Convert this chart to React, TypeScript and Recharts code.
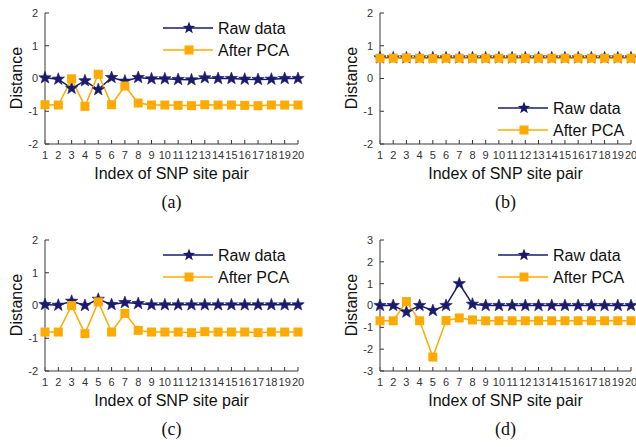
import React from "react";
import { LineChart, Line, XAxis, YAxis, Legend } from "recharts";

const siteIndex = [1, 2, 3, 4, 5, 6, 7, 8, 9, 10, 11, 12, 13, 14, 15, 16, 17, 18, 19, 20];

const rawA = [0.02, -0.02, -0.3, -0.07, -0.34, 0.03, -0.08, 0.03, -0.01, -0.01, -0.03, -0.04, 0.02, 0, 0, -0.02, -0.03, -0.02, 0, 0];
const pcaA = [-0.8, -0.81, -0.01, -0.85, 0.13, -0.8, -0.23, -0.75, -0.81, -0.81, -0.82, -0.83, -0.8, -0.81, -0.81, -0.82, -0.83, -0.81, -0.81, -0.81];

const rawB = [0.63, 0.63, 0.63, 0.63, 0.63, 0.63, 0.63, 0.63, 0.63, 0.63, 0.63, 0.63, 0.63, 0.63, 0.63, 0.63, 0.63, 0.63, 0.63, 0.63];
const pcaB = [0.62, 0.62, 0.63, 0.62, 0.61, 0.62, 0.62, 0.62, 0.62, 0.62, 0.62, 0.62, 0.62, 0.62, 0.62, 0.62, 0.62, 0.62, 0.62, 0.62];

const rawC = [0.03, 0.01, 0.13, 0, 0.19, 0.03, 0.09, 0.06, 0.02, 0.02, 0.02, 0.02, 0.02, 0.02, 0.02, 0.02, 0.02, 0.02, 0.02, 0.02];
const pcaC = [-0.81, -0.81, 0, -0.86, 0.11, -0.81, -0.24, -0.76, -0.81, -0.81, -0.81, -0.83, -0.8, -0.81, -0.81, -0.81, -0.83, -0.81, -0.81, -0.81];

const rawD = [0, 0, -0.3, 0, -0.23, 0, 1.0, 0.06, 0, 0, 0, 0, 0, 0, 0, 0, 0, 0, 0, 0];
const pcaD = [-0.7, -0.7, 0.18, -0.7, -2.36, -0.69, -0.57, -0.66, -0.7, -0.7, -0.7, -0.7, -0.7, -0.7, -0.7, -0.7, -0.7, -0.7, -0.7, -0.7];

const ticks2 = [-2, -1, 0, 1, 2];
const ticks3 = [-3, -2, -1, 0, 1, 2, 3];

const seriesNames = ["Raw data", "After PCA"];

const NAVY = "#1b1b6b";
const ORANGE = "#ffaa00";
const SANS = "'Liberation Sans', Arial, Helvetica, sans-serif";

const starPoints = (cx: number, cy: number, ro: number, ri: number) => {
  const pts: string[] = [];
  for (let i = 0; i < 10; i++) {
    const r = i % 2 === 0 ? ro : ri;
    const a = -Math.PI / 2 + (i * Math.PI) / 5;
    pts.push(`${cx + r * Math.cos(a)},${cy + r * Math.sin(a)}`);
  }
  return pts.join(" ");
};

const StarDot = (props: any) => {
  const { cx, cy, index } = props;
  if (cx == null || cy == null) return <g key={`s${index}`} />;
  return <polygon key={`s${index}`} points={starPoints(cx, cy, 6.5, 2.7)} fill={NAVY} stroke={NAVY} strokeWidth={0.6} />;
};

const SquareDot = (props: any) => {
  const { cx, cy, index } = props;
  if (cx == null || cy == null) return <g key={`q${index}`} />;
  return <rect key={`q${index}`} x={cx - 4.5} y={cy - 4.5} width={9} height={9} fill={ORANGE} />;
};

// legend keeps the series order (raw first), not recharts' sorted payload
const renderLegend = (props: any) => {
  const payload = [...(props.payload || [])].sort(
    (a: any, b: any) => seriesNames.indexOf(a.value) - seriesNames.indexOf(b.value)
  );
  return (
    <svg width={140} height={44} style={{ display: "block" }}>
      {payload.map((entry: any, i: number) => {
        const y = 11 + i * 22;
        const isRaw = entry.value === seriesNames[0];
        const color = isRaw ? NAVY : ORANGE;
        return (
          <g key={entry.value}>
            <line x1={0} x2={50} y1={y} y2={y} stroke={color} strokeWidth={1.5} />
            {isRaw ? (
              <polygon points={starPoints(26, y, 6.5, 2.7)} fill={NAVY} />
            ) : (
              <rect x={21.5} y={y - 4.5} width={9} height={9} fill={ORANGE} />
            )}
            <text x={55} y={y} dominantBaseline="central" fontSize={16} fontFamily={SANS} fill="#111">
              {entry.value}
            </text>
          </g>
        );
      })}
    </svg>
  );
};

const noTick = () => <g />;

type PanelProps = {
  raw: number[];
  pca: number[];
  yTicks: number[];
  caption: string;
  left: number;
  top: number;
  plotLeft: number;
  plotRight: number;
  legendX: number;
  legendY: number;
};

const Panel = ({ raw, pca, yTicks, caption, left, top, plotLeft, plotRight, legendX, legendY }: PanelProps) => {
  const data = siteIndex.map((idx, i) => ({ idx, raw: raw[i], pca: pca[i] }));
  const yDomain = [yTicks[0], yTicks[yTicks.length - 1]];
  const centerX = (plotLeft + plotRight) / 2;
  const axisLine = { stroke: "#7a7a7a", strokeWidth: 1.5 };
  const tickLine = { stroke: "#333", strokeWidth: 1 };
  return (
    <div style={{ position: "absolute", left, top, width: 318, height: 220 }}>
      <LineChart
        width={318}
        height={170}
        data={data}
        margin={{ top: 13, right: 318 - plotRight, bottom: 0, left: plotLeft - 30 }}
      >
        <XAxis
          dataKey="idx"
          type="number"
          domain={[1, 20]}
          ticks={siteIndex}
          interval={0}
          height={26}
          tickSize={-4}
          tickMargin={11}
          axisLine={axisLine}
          tickLine={tickLine}
          tick={{ fontSize: 11, fill: "#333", fontFamily: SANS }}
        />
        <XAxis
          xAxisId="top"
          orientation="top"
          dataKey="idx"
          type="number"
          domain={[1, 20]}
          ticks={siteIndex}
          interval={0}
          height={0}
          tickSize={-4}
          axisLine={axisLine}
          tickLine={tickLine}
          tick={noTick}
        />
        <YAxis
          type="number"
          domain={yDomain}
          ticks={yTicks}
          interval={0}
          width={30}
          tickSize={-4}
          tickMargin={11}
          axisLine={axisLine}
          tickLine={tickLine}
          tick={{ fontSize: 11, fill: "#333", fontFamily: SANS }}
        />
        <YAxis
          yAxisId="right"
          orientation="right"
          type="number"
          domain={yDomain}
          ticks={yTicks}
          interval={0}
          width={0}
          tickSize={-4}
          axisLine={axisLine}
          tickLine={tickLine}
          tick={noTick}
        />
        <Legend
          layout="vertical"
          align="center"
          verticalAlign="middle"
          content={renderLegend}
          wrapperStyle={{ position: "absolute", left: legendX, top: legendY - 11, width: 140, height: 44 }}
        />
        <Line
          dataKey="raw"
          name={seriesNames[0]}
          stroke={NAVY}
          strokeWidth={1.5}
          dot={StarDot}
          activeDot={false}
          isAnimationActive={false}
        />
        <Line
          dataKey="pca"
          name={seriesNames[1]}
          stroke={ORANGE}
          strokeWidth={1.5}
          dot={SquareDot}
          activeDot={false}
          isAnimationActive={false}
        />
      </LineChart>
      <div
        style={{
          position: "absolute",
          left: plotLeft - 28,
          top: 78,
          transform: "translate(-50%, -50%) rotate(-90deg)",
          fontFamily: SANS,
          fontSize: 16,
          whiteSpace: "nowrap",
          color: "#111",
        }}
      >
        Distance
      </div>
      <div
        style={{
          position: "absolute",
          left: centerX,
          top: 174,
          transform: "translate(-50%, -50%)",
          fontFamily: SANS,
          fontSize: 16,
          whiteSpace: "nowrap",
          color: "#111",
        }}
      >
        Index of SNP site pair
      </div>
      <div
        style={{
          position: "absolute",
          left: centerX,
          top: 202,
          transform: "translate(-50%, -50%)",
          fontFamily: "'Liberation Serif', 'Times New Roman', serif",
          fontSize: 18,
          whiteSpace: "nowrap",
          color: "#111",
        }}
      >
        {caption}
      </div>
    </div>
  );
};

export default function App() {
  return (
    <div style={{ position: "absolute", left: 0, top: 0, width: 636, height: 447, background: "#fff" }}>
      <Panel raw={rawA} pca={pcaA} yTicks={ticks2} caption="(a)" left={0} top={0} plotLeft={45} plotRight={298} legendX={163} legendY={28} />
      <Panel raw={rawB} pca={pcaB} yTicks={ticks2} caption="(b)" left={318} top={0} plotLeft={62} plotRight={313} legendX={180} legendY={108} />
      <Panel raw={rawC} pca={pcaC} yTicks={ticks2} caption="(c)" left={0} top={227} plotLeft={45} plotRight={298} legendX={163} legendY={28} />
      <Panel raw={rawD} pca={pcaD} yTicks={ticks3} caption="(d)" left={318} top={227} plotLeft={62} plotRight={313} legendX={180} legendY={28} />
    </div>
  );
}
